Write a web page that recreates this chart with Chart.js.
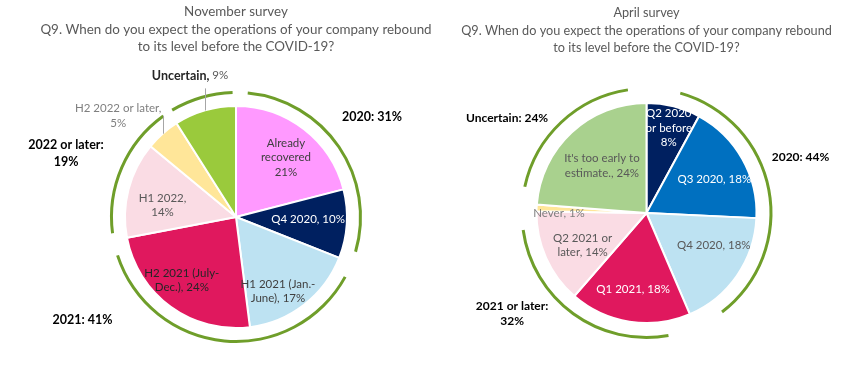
<!DOCTYPE html>
<html>
<head>
<meta charset="utf-8">
<title>Q9 rebound expectations</title>
<script src="https://cdn.jsdelivr.net/npm/chart.js@4.4.1/dist/chart.umd.min.js"></script>
<style>
  html, body { margin: 0; padding: 0; background: #fff; }
  body { width: 844px; height: 376px; position: relative; overflow: hidden; }
  .box { position: absolute; top: 0; height: 376px; }
  #novBox { left: 0; width: 472px; }
  #aprBox { left: 449px; width: 395px; }
</style>
</head>
<body>
<div class="box" id="novBox"><canvas id="novChart"></canvas></div>
<div class="box" id="aprBox"><canvas id="aprChart"></canvas></div>
<script>
// November survey
const novCategories = ['Already recovered', 'Q4 2020', 'H1 2021 (Jan.-June)', 'H2 2021 (July-Dec.)', 'H1 2022', 'H2 2022 or later', 'Uncertain'];
const novValues = [21, 10, 17, 24, 14, 5, 9];
const novGroups = ['2020', '2021', '2022 or later', 'Uncertain'];
const novGroupValues = [31, 41, 19, 9];
const novColors = ['#FF99FF', '#002060', '#BDE2F2', '#E0185E', '#FADCE4', '#FFE699', '#9ACA3C'];

// April survey
const aprCategories = ['Q2 2020 or before', 'Q3 2020', 'Q4 2020', 'Q1 2021', 'Q2 2021 or later', 'Never', "It's too early to estimate."];
const aprValues = [8, 18, 18, 18, 14, 1, 24];
const aprGroups = ['2020', '2021 or later', 'Uncertain'];
const aprGroupValues = [44, 32, 24];
const aprColors = ['#002060', '#0070C0', '#BDE2F2', '#E0185E', '#FADCE4', '#FFE699', '#A9D18E'];

const question = ['Q9. When do you expect the operations of your company rebound', 'to its level before the COVID-19?'];
const ARC_GREEN = '#6F9E2A';

Chart.defaults.font.family = 'Lato';

const pct = v => v + '%';

// labels: placed at slice (or ring) mid angle + dAng, at r * pie radius
const novLabels = [
  { index: 0, lines: ['Already', 'recovered', pct(novValues[0])], dAng: 2.2, r: 0.70, color: '#404040' },
  { index: 1, lines: ['Q4 2020, ' + pct(novValues[1])], dAng: -1.6, r: 0.65, color: '#ffffff' },
  { index: 2, lines: ['H1 2021 (Jan.-', 'June), ' + pct(novValues[2])], dAng: 8.4, r: 0.77, color: '#404040' },
  { index: 3, lines: ['H2 2021 (July-', 'Dec.), ' + pct(novValues[3])], dAng: 4.6, r: 0.75, color: '#262626' },
  { index: 4, lines: ['H1 2022,', pct(novValues[4])], dAng: -5.4, r: 0.67, color: '#595959' },
  { index: 5, lines: ['H2 2022 or later,', pct(novValues[5])], dAng: -7.9, r: 1.40, color: '#7F7F7F', leader: 18 },
  { index: 6, lines: [[{ text: novCategories[6] + ',', bold: true, size: 12.5, color: '#262626' }, { text: ' ' + pct(novValues[6]) }]], dAng: -1.8, r: 1.34, color: '#595959', leader: 22 },
  { ring: true, index: 0, lines: [novGroups[0] + ': ' + pct(novGroupValues[0])], dAng: -2.1, r: 1.52, bold: true, size: 12.5, color: '#000' },
  { ring: true, index: 1, lines: [novGroups[1] + ': ' + pct(novGroupValues[1])], dAng: 50.7, r: 1.666, bold: true, size: 12.5, color: '#000' },
  { ring: true, index: 2, lines: [novGroups[2] + ':', pct(novGroupValues[2])], dAng: -2.9, r: 1.635, bold: true, size: 12.5, color: '#000', lineHeight: 17 }
];

const aprLabels = [
  { index: 0, lines: ['Q2 2020', 'or before', pct(aprValues[0])], dAng: 0.4, r: 0.80, color: '#ffffff' },
  { index: 1, lines: ['Q3 2020, ' + pct(aprValues[1])], dAng: 2.7, r: 0.69, color: '#ffffff' },
  { index: 2, lines: ['Q4 2020, ' + pct(aprValues[2])], dAng: -8.8, r: 0.68, color: '#595959' },
  { index: 3, lines: ['Q1 2021, ' + pct(aprValues[3])], dAng: 1.1, r: 0.70, color: '#ffffff' },
  { index: 4, lines: ['Q2 2021 or', 'later, ' + pct(aprValues[4])], dAng: -2.6, r: 0.65, color: '#595959' },
  { index: 5, lines: ['Never, ' + pct(aprValues[5])], dAng: -2.7, r: 0.795, color: '#7F7F7F' },
  { index: 6, lines: ["It's too early to", 'estimate., ' + pct(aprValues[6])], dAng: -0.6, r: 0.59, color: '#595959' },
  { ring: true, index: 0, lines: [aprGroups[0] + ': ' + pct(aprGroupValues[0])], dAng: -9.2, r: 1.49, bold: true, size: 12, color: '#000' },
  { ring: true, index: 1, lines: [aprGroups[1] + ':', pct(aprGroupValues[1])], dAng: 17.2, r: 1.526, bold: true, size: 12, color: '#000', lineHeight: 15 },
  { ring: true, index: 2, lines: [aprGroups[2] + ': ' + pct(aprGroupValues[2])], dAng: -12.5, r: 1.534, bold: true, size: 12, color: '#000' }
];

const pieLabels = {
  id: 'pieLabels',
  afterDatasetsDraw(chart, args, opts) {
    const ctx = chart.ctx;
    const ring = chart.getDatasetMeta(0).data;
    const pie = chart.getDatasetMeta(2).data;
    const cx = pie[0].x, cy = pie[0].y, R = pie[0].outerRadius;
    ctx.save();
    ctx.textBaseline = 'middle';
    ctx.textAlign = 'left';
    for (const item of opts.items) {
      const el = (item.ring ? ring : pie)[item.index];
      const mid = (el.startAngle + el.endAngle) / 2;
      if (item.leader) {
        const ex = Math.round(cx + Math.cos(mid) * R) + 0.5;
        const ey = cy + Math.sin(mid) * R;
        ctx.strokeStyle = '#A6A6A6';
        ctx.lineWidth = 1;
        ctx.beginPath();
        ctx.moveTo(ex, ey);
        ctx.lineTo(ex, ey - item.leader);
        ctx.stroke();
      }
      const a = mid + item.dAng * Math.PI / 180;
      const x = cx + Math.cos(a) * R * item.r;
      const y = cy + Math.sin(a) * R * item.r;
      const lh = item.lineHeight || 14.5;
      const y0 = y - (item.lines.length - 1) * lh / 2;
      item.lines.forEach((line, i) => {
        const runs = Array.isArray(line) ? line : [{ text: line }];
        const fonts = runs.map(r => ((r.bold ?? item.bold) ? 'bold ' : '') + (r.size || item.size || 11.5) + 'px Lato');
        const widths = runs.map((r, k) => { ctx.font = fonts[k]; return ctx.measureText(r.text).width; });
        let lx = x - widths.reduce((s, w) => s + w, 0) / 2;
        runs.forEach((r, k) => {
          ctx.font = fonts[k];
          ctx.fillStyle = r.color || item.color;
          ctx.fillText(r.text, lx, y0 + i * lh);
          lx += widths[k];
        });
      });
    }
    ctx.restore();
  }
};

function makeChart(id, cats, values, colors, groupValues, opt) {
  return new Chart(document.getElementById(id), {
    type: 'pie',
    data: {
      labels: cats,
      datasets: [
        { data: groupValues, backgroundColor: ARC_GREEN, borderWidth: 0, hoverBorderWidth: 0, hoverOffset: 0, spacing: opt.gap, weight: opt.ringWeight },
        { data: groupValues, backgroundColor: 'rgba(0,0,0,0)', borderWidth: 0, hoverBorderWidth: 0, hoverOffset: 0, weight: opt.spacerWeight },
        { data: values, backgroundColor: colors, borderColor: '#ffffff', borderWidth: 2, hoverOffset: 0, weight: opt.pieWeight }
      ]
    },
    options: {
      responsive: true,
      maintainAspectRatio: false,
      animation: false,
      events: [],
      layout: { padding: { bottom: opt.padBottom } },
      plugins: {
        legend: { display: false },
        tooltip: { enabled: false },
        title: {
          display: true,
          text: opt.title,
          color: '#595959',
          font: { size: opt.titleSize, lineHeight: opt.titleLH, weight: 'normal' },
          padding: { top: opt.titleTop, bottom: opt.titleBottom }
        },
        pieLabels: { items: opt.labels }
      }
    },
    plugins: [pieLabels]
  });
}

makeChart('novChart', novCategories, novValues, novColors, novGroupValues, {
  title: ['November survey', ...question],
  titleSize: 13.4, titleLH: 1.306, titleTop: 3, titleBottom: 35.5, padBottom: 33,
  gap: 23, ringWeight: 2.62, spacerWeight: 9.28, pieWeight: 88.1,
  labels: novLabels
});

makeChart('aprChart', aprCategories, aprValues, aprColors, aprGroupValues, {
  title: ['April survey', ...question],
  titleSize: 12.7, titleLH: 1.354, titleTop: 4.7, titleBottom: 30.7, padBottom: 37,
  gap: 45, ringWeight: 2.9, spacerWeight: 9.8, pieWeight: 87.3,
  labels: aprLabels
});
</script>
</body>
</html>
